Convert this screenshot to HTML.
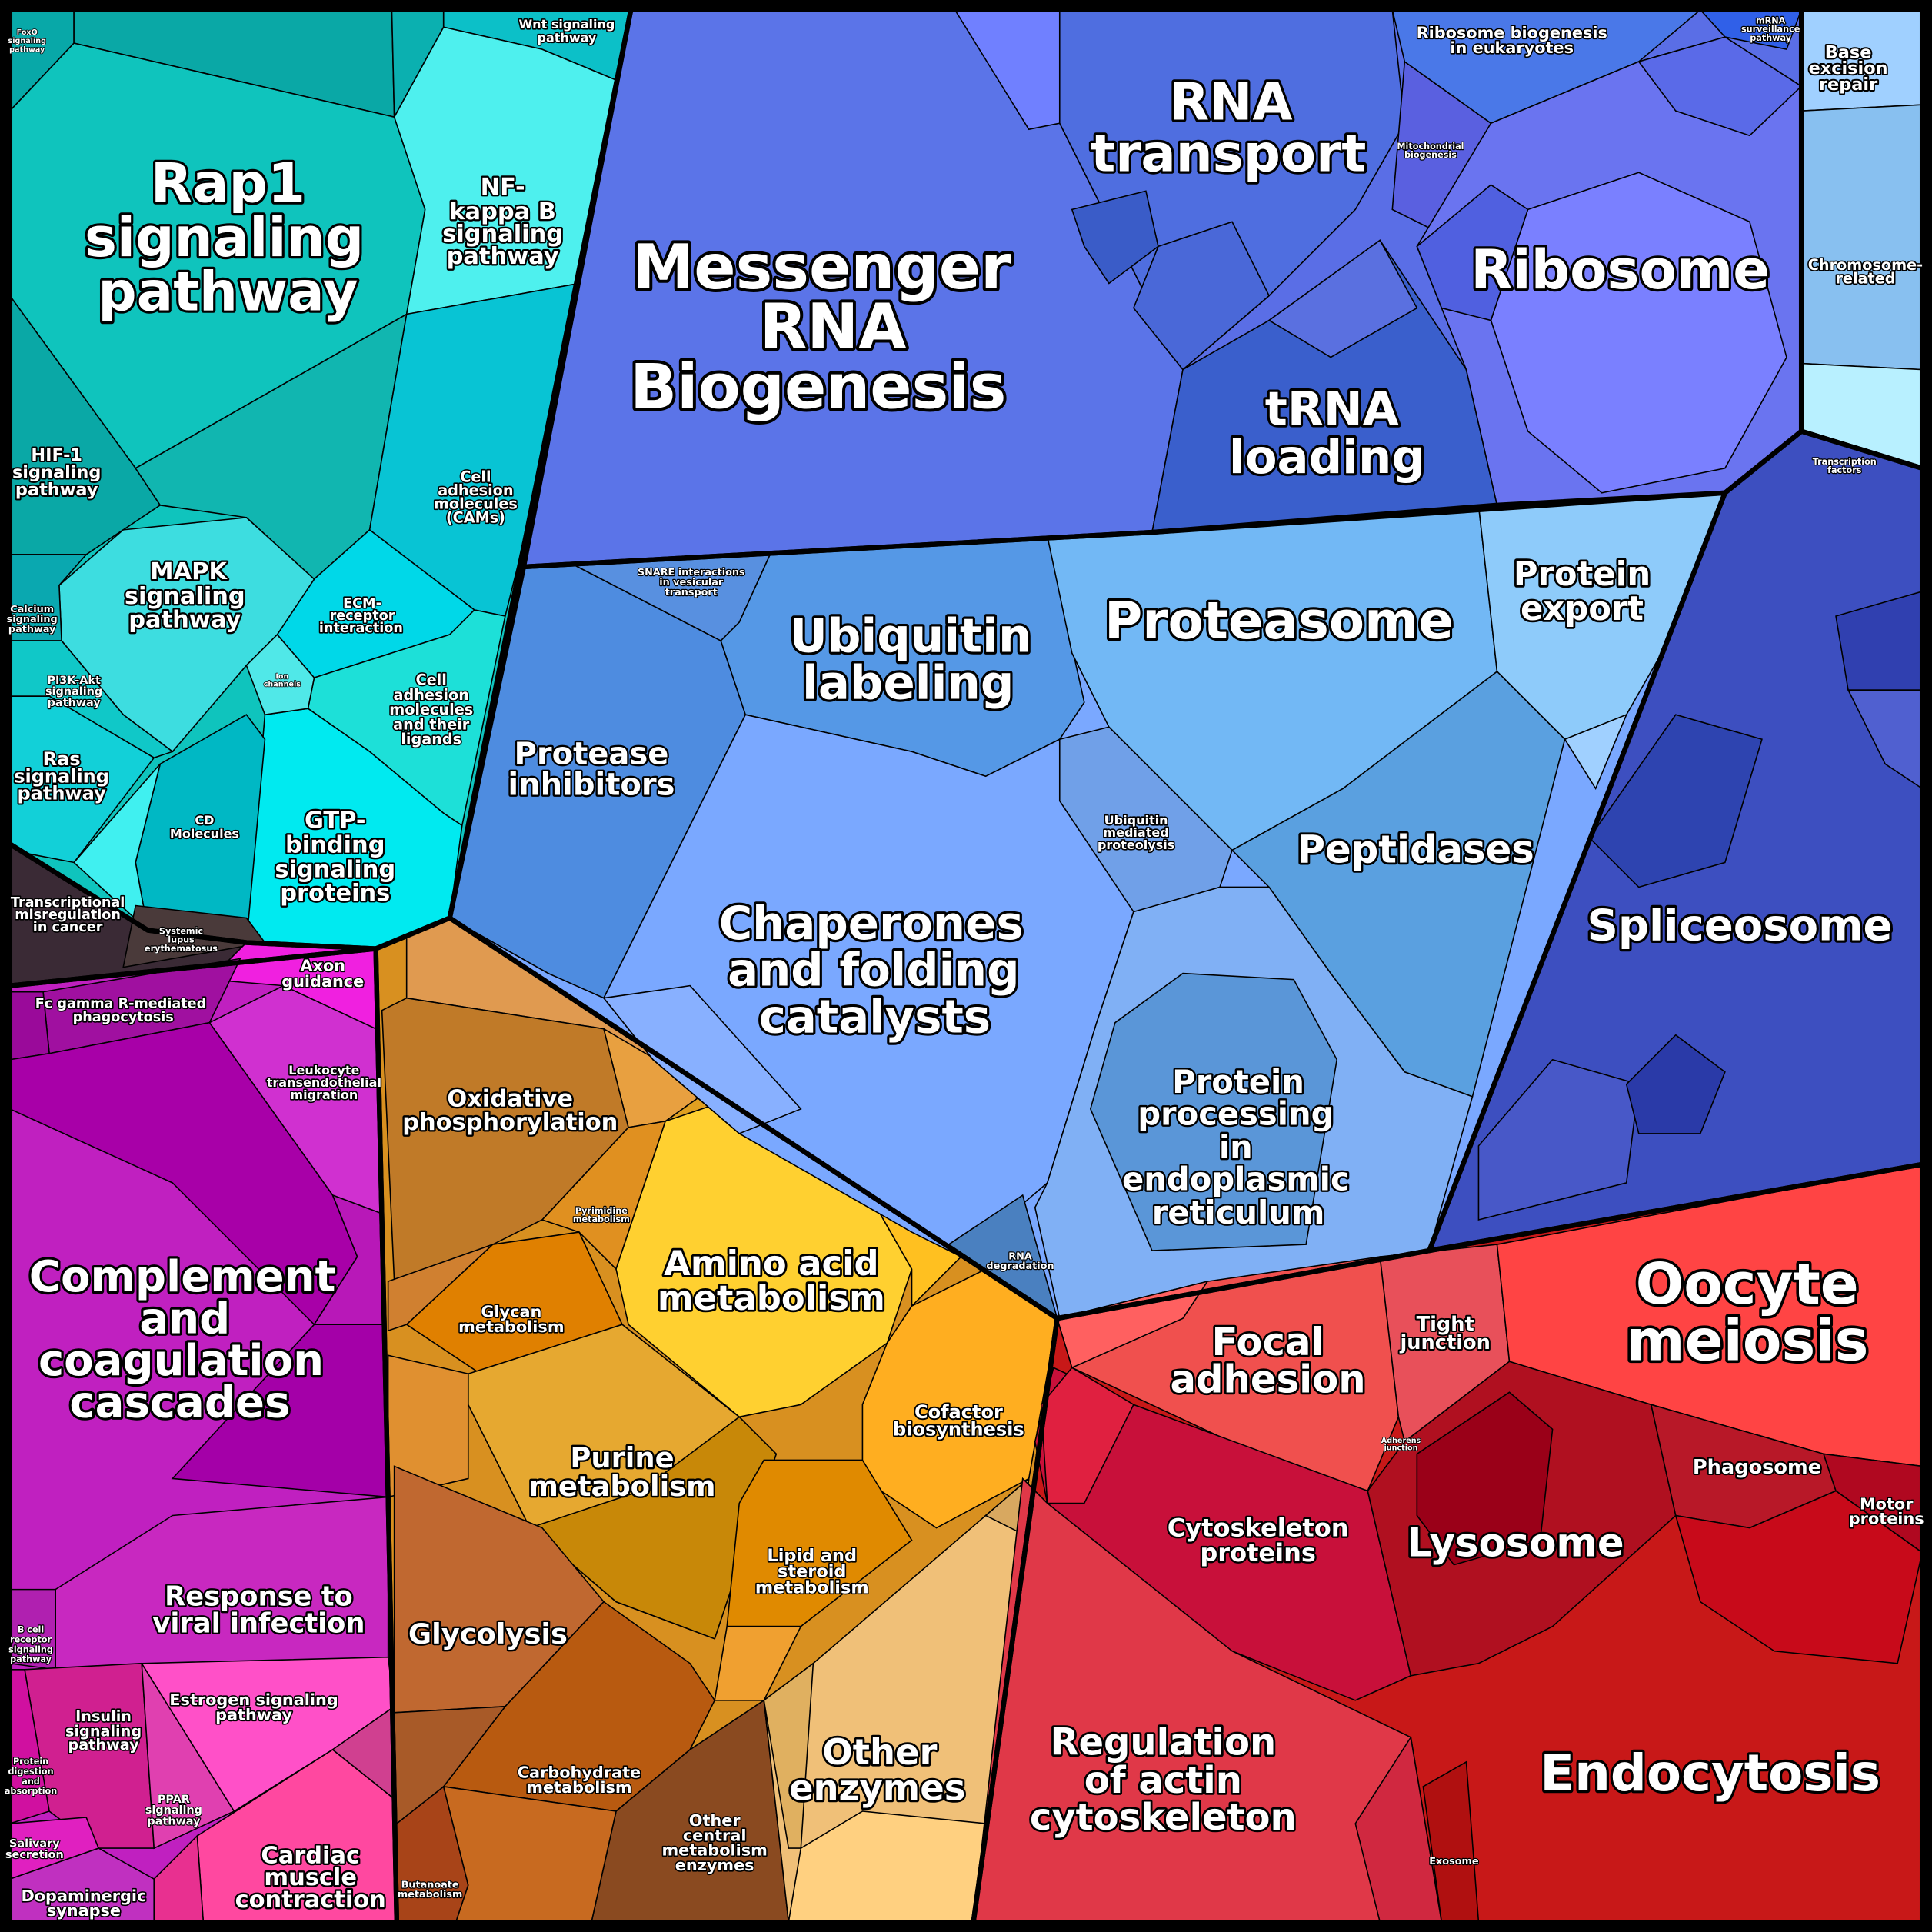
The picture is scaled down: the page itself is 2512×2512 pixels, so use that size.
<!DOCTYPE html>
<html><head><meta charset="utf-8"><style>
html,body{margin:0;padding:0;background:#000}
svg{display:block}
text{font-family:"DejaVu Sans","Liberation Sans",sans-serif;font-weight:bold;fill:#fff;stroke:#000;paint-order:stroke;text-anchor:middle;stroke-linejoin:round}
.s polygon{stroke:#000;stroke-width:1}
.m polygon{fill:none;stroke:#000;stroke-width:4;stroke-linejoin:round}
</style></head><body>
<svg width="2512" height="2512" viewBox="0 0 1568 1568" xmlns="http://www.w3.org/2000/svg">
<rect width="1568" height="1568" fill="#000"/>
<g class="s">
<!-- CYAN -->
<polygon fill="#0fc4bd" points="8,8 512,8 365,745 305,770 200,765 120,755 8,685"/>
<polygon fill="#08a8a8" points="8,8 60,8 60,35 8,90"/>
<polygon fill="#0aa8a6" points="60,8 318,8 320,95 60,35"/>
<polygon fill="#0bb0b0" points="318,8 360,8 360,22 320,95"/>
<polygon fill="#0cc0c8" points="360,8 512,8 500,65 440,40 360,22"/>
<polygon fill="#0fc4bd" points="8,90 60,35 320,95 345,170 330,255 110,380 8,240"/>
<polygon fill="#0aa8a6" points="8,240 110,380 130,410 70,450 8,450"/>
<polygon fill="#11b6b0" points="110,380 330,255 300,430 255,470 200,420 130,410"/>
<polygon fill="#4ef0ee" points="360,22 440,40 500,65 470,230 330,255 345,170 320,95"/>
<polygon fill="#08c4d4" points="470,230 420,460 410,500 385,495 300,430 330,255"/>
<polygon fill="#00d8e8" points="300,430 385,495 365,515 255,550 225,515 255,470"/>
<polygon fill="#1de0d8" points="365,515 385,495 410,500 375,670 360,660 300,610 250,575 255,550"/>
<polygon fill="#00eaf0" points="215,580 250,575 300,610 360,660 375,670 365,745 305,770 200,765 210,640"/>
<polygon fill="#3ddde0" points="48,475 100,430 200,420 255,470 225,515 200,540 140,610 100,580 50,520"/>
<polygon fill="#0aa8b0" points="8,450 70,450 48,475 50,520 8,520"/>
<polygon fill="#10c8c8" points="8,520 50,520 100,580 140,610 125,615 40,565 8,565"/>
<polygon fill="#12d0d8" points="8,565 40,565 125,615 60,700 8,690"/>
<polygon fill="#00b8c4" points="130,620 200,580 215,600 200,765 120,755 110,700"/>
<polygon fill="#40f0f0" points="60,700 130,620 110,700 120,755"/>
<polygon fill="#50e8e8" points="200,540 225,515 255,550 250,575 215,580"/>
<!-- DARK -->
<polygon fill="#3a2a35" points="8,685 120,755 200,765 305,770 8,800"/>
<polygon fill="#4a3a3a" points="110,735 200,745 215,765 100,785"/>
<!-- MAGENTA -->
<polygon fill="#c020c0" points="8,800 305,770 315,1215 322,1560 8,1560"/>
<polygon fill="#f020e0" points="170,795 200,765 305,770 305,835 230,800"/>
<polygon fill="#a010a0" points="35,805 195,778 170,830 40,855"/>
<polygon fill="#9a0a9a" points="8,805 35,805 40,855 8,860"/>
<polygon fill="#d030d0" points="170,830 230,800 305,835 310,985 270,970"/>
<polygon fill="#a800a8" points="8,860 40,855 170,830 270,970 290,1020 255,1075 140,960 8,900"/>
<polygon fill="#b818b8" points="270,970 310,985 315,1075 255,1075 290,1020"/>
<polygon fill="#a400a8" points="140,1200 255,1075 315,1075 315,1215"/>
<polygon fill="#c828c0" points="45,1290 140,1230 315,1215 315,1345 45,1355"/>
<polygon fill="#b020b0" points="8,1290 45,1290 45,1355 8,1350"/>
<polygon fill="#d02090" points="20,1355 115,1350 125,1500 80,1500 40,1470"/>
<polygon fill="#e040b0" points="115,1350 190,1470 125,1500"/>
<polygon fill="#ff50c8" points="115,1350 315,1345 320,1385 270,1420 190,1470"/>
<polygon fill="#ff48a0" points="160,1490 270,1420 320,1460 322,1560 165,1560"/>
<polygon fill="#d04090" points="270,1420 320,1385 320,1460"/>
<polygon fill="#c030c0" points="8,1525 80,1500 125,1525 125,1560 8,1560"/>
<polygon fill="#d010a0" points="8,1355 20,1355 40,1470 8,1480"/>
<polygon fill="#e020c0" points="8,1480 70,1475 80,1500 8,1525"/>
<polygon fill="#e83090" points="125,1525 160,1490 165,1560 125,1560"/>
<!-- ORANGE -->
<polygon fill="#d89020" points="305,770 365,745 858,1070 790,1560 322,1560 315,1215"/>
<polygon fill="#e09a50" points="330,760 365,745 575,885 560,905 510,915 490,835 330,810"/>
<polygon fill="#c07a28" points="310,820 330,810 490,835 510,915 440,990 400,1010 320,1040"/>
<polygon fill="#e8a040" points="490,835 575,885 540,910 510,915"/>
<polygon fill="#e0a020" points="540,910 575,885 605,888 560,905"/>
<polygon fill="#e09020" points="440,990 510,915 540,910 500,1030 470,1000"/>
<polygon fill="#d08030" points="315,1040 400,1010 330,1075 315,1080"/>
<polygon fill="#e08000" points="330,1075 400,1010 470,1000 505,1075 390,1115"/>
<polygon fill="#ffd030" points="500,1030 540,910 605,888 700,960 740,1030 720,1090 650,1140 600,1150 510,1075"/>
<polygon fill="#ffc020" points="700,960 780,1020 740,1060 740,1030"/>
<polygon fill="#e6a830" points="380,1115 505,1075 600,1150 630,1180 580,1330 500,1300 430,1240 380,1140"/>
<polygon fill="#c88808" points="430,1240 520,1210 600,1150 630,1180 580,1330 500,1300"/>
<polygon fill="#ffae20" points="740,1060 800,1030 858,1070 835,1200 760,1240 700,1200 700,1140 720,1090"/>
<polygon fill="#e08a00" points="620,1185 700,1185 740,1250 650,1320 590,1320 600,1220"/>
<polygon fill="#f0a030" points="590,1320 650,1320 620,1380 580,1380"/>
<polygon fill="#e09030" points="315,1100 380,1115 380,1200 315,1215"/>
<polygon fill="#c06830" points="320,1190 440,1240 490,1300 410,1385 320,1390"/>
<polygon fill="#b85a10" points="360,1450 410,1385 490,1300 560,1350 580,1380 560,1420 500,1470"/>
<polygon fill="#8a4a20" points="480,1560 500,1470 560,1420 620,1380 640,1560"/>
<polygon fill="#a84418" points="322,1480 360,1450 380,1530 370,1560 322,1560"/>
<polygon fill="#a85a28" points="320,1390 410,1385 360,1450 322,1480"/>
<polygon fill="#c86a20" points="360,1450 500,1470 480,1560 370,1560 380,1530"/>
<polygon fill="#f0c078" points="620,1380 660,1350 800,1230 835,1200 790,1560 640,1560"/>
<polygon fill="#ffd080" points="650,1500 700,1470 800,1480 790,1560 640,1560"/>
<polygon fill="#e0b060" points="620,1380 660,1350 650,1500 640,1500"/>
<polygon fill="#d8a860" points="800,1230 835,1200 830,1245"/>
<!-- BLUE PROTEIN -->
<polygon fill="#7aa8ff" points="365,745 425,460 935,432 1215,410 1400,400 1160,1015 858,1070"/>
<polygon fill="#4e8ce0" points="425,460 465,458 585,520 605,580 490,810 445,790 365,745"/>
<polygon fill="#5890e0" points="465,458 625,450 600,505 585,520"/>
<polygon fill="#5598e6" points="625,450 850,435 880,570 860,600 800,630 740,610 605,580 585,520 600,505"/>
<polygon fill="#7aa8ff" points="490,810 605,580 740,610 800,630 860,600 920,740 890,830 850,960 780,1020 740,1000 600,920 530,860"/>
<polygon fill="#88b0ff" points="490,810 530,860 600,920 650,900 560,800"/>
<polygon fill="#72b8f5" points="850,435 935,430 1200,410 1215,545 1090,640 1000,690 900,590 870,530"/>
<polygon fill="#8ecbfa" points="1200,410 1400,400 1360,510 1320,580 1270,600 1215,545"/>
<polygon fill="#5aa0e0" points="1000,690 1090,640 1215,545 1270,600 1195,890 1140,870 1080,790 1030,720"/>
<polygon fill="#a0d0ff" points="1270,600 1320,580 1295,640"/>
<polygon fill="#70a0e8" points="860,600 900,590 1000,690 990,720 930,740 920,740 860,650"/>
<polygon fill="#80b0f5" points="850,960 890,830 920,740 990,720 1030,720 1080,790 1140,870 1195,890 1160,1015 860,1070 840,980"/>
<polygon fill="#5a96d8" points="905,830 960,790 1050,795 1085,860 1060,1010 935,1015 885,900"/>
<polygon fill="#4a80c0" points="770,1010 830,970 858,1070 800,1030"/>
<!-- mRNA -->
<polygon fill="#5a6ee6" points="512,8 1462,8 1462,350 1400,400 935,432 425,460"/>
<polygon fill="#5b74e8" points="512,8 775,8 860,100 960,300 935,432 425,460"/>
<polygon fill="#4f6ee0" points="775,8 1130,8 1140,100 1100,170 1030,240 960,300 860,100"/>
<polygon fill="#7080ff" points="775,8 860,8 860,100 835,105"/>
<polygon fill="#3a5cc8" points="870,170 930,155 940,200 900,230 880,200"/>
<polygon fill="#4a68d8" points="940,200 1000,180 1030,240 960,300 920,250"/>
<polygon fill="#3a5fcc" points="960,300 1030,260 1120,195 1190,300 1215,410 935,432"/>
<polygon fill="#5a70e0" points="1030,260 1120,195 1150,250 1080,290"/>
<polygon fill="#5a60e0" points="1140,50 1210,100 1170,190 1130,170"/>
<polygon fill="#4a78e8" points="1130,8 1380,8 1330,50 1210,100 1140,50"/>
<polygon fill="#3060e8" points="1380,8 1462,8 1450,40 1400,30"/>
<polygon fill="#6a74f0" points="1210,100 1330,50 1400,30 1462,70 1462,350 1400,400 1215,410 1190,300 1150,200"/>
<polygon fill="#7a80ff" points="1240,170 1330,140 1420,180 1450,290 1400,380 1300,400 1240,350 1210,260"/>
<polygon fill="#5060e0" points="1150,200 1210,150 1240,170 1210,260 1170,250"/>
<polygon fill="#5a6ae8" points="1330,50 1400,30 1462,70 1420,110 1360,90"/>
<!-- light blue TR -->
<polygon fill="#a0d0ff" points="1462,8 1560,8 1560,85 1462,90"/>
<polygon fill="#88c0f0" points="1462,90 1560,85 1560,300 1462,295"/>
<polygon fill="#b8f0ff" points="1462,295 1560,300 1560,380 1462,350"/>
<!-- SPLICEOSOME -->
<polygon fill="#3d4fc0" points="1400,400 1462,350 1560,380 1560,945 1160,1015"/>
<polygon fill="#2e44b0" points="1290,680 1360,580 1430,600 1400,700 1330,720"/>
<polygon fill="#4858c8" points="1200,930 1260,860 1330,880 1320,960 1200,990"/>
<polygon fill="#3040b0" points="1490,500 1560,480 1560,560 1500,560"/>
<polygon fill="#5060d0" points="1500,560 1560,560 1560,640 1530,620"/>
<polygon fill="#2a3aa8" points="1320,880 1360,840 1400,870 1380,920 1330,920"/>
<!-- RED -->
<polygon fill="#c81818" points="858,1070 1160,1015 1560,945 1560,1560 790,1560"/>
<polygon fill="#f0504e" points="858,1070 980,1040 1120,1020 1135,1150 1110,1210 1020,1180 870,1110"/>
<polygon fill="#ff6060" points="858,1070 980,1040 960,1070 870,1110"/>
<polygon fill="#e8505a" points="1120,1020 1215,1010 1225,1105 1140,1170 1135,1150"/>
<polygon fill="#ff4444" points="1215,1010 1560,945 1560,1190 1480,1180 1340,1140 1225,1105"/>
<polygon fill="#c8103a" points="855,1110 920,1140 1110,1210 1145,1360 1100,1380 1000,1340 900,1290 850,1220 840,1170"/>
<polygon fill="#e02040" points="845,1140 870,1110 920,1140 880,1220 850,1220"/>
<polygon fill="#e03848" points="830,1200 850,1220 1000,1340 1145,1410 1170,1560 790,1560"/>
<polygon fill="#d02840" points="1100,1480 1145,1410 1170,1560 1120,1560"/>
<polygon fill="#b01020" points="1110,1210 1140,1170 1225,1105 1340,1140 1360,1230 1260,1320 1200,1350 1145,1360"/>
<polygon fill="#9a0018" points="1150,1180 1225,1130 1260,1160 1250,1250 1180,1270 1150,1230"/>
<polygon fill="#b81828" points="1340,1140 1480,1180 1490,1210 1420,1240 1360,1230"/>
<polygon fill="#b00820" points="1480,1180 1560,1190 1560,1260 1490,1210"/>
<polygon fill="#c80a1a" points="1360,1230 1420,1240 1490,1210 1560,1260 1540,1350 1440,1340 1380,1300"/>
<polygon fill="#b01010" points="1155,1450 1190,1430 1200,1560 1170,1560"/>
</g>
<g class="m">
<polygon points="8,8 512,8 365,745 305,770 200,765 120,755 8,685"/>
<polygon points="8,685 120,755 200,765 305,770 8,800"/>
<polygon points="8,800 305,770 315,1215 322,1560 8,1560"/>
<polygon points="305,770 365,745 858,1070 790,1560 322,1560 315,1215"/>
<polygon points="365,745 425,460 935,432 1215,410 1400,400 1160,1015 858,1070"/>
<polygon points="512,8 1462,8 1462,350 1400,400 935,432 425,460"/>
<polygon points="1462,8 1560,8 1560,380 1462,350"/>
<polygon points="1400,400 1462,350 1560,380 1560,945 1160,1015"/>
<polygon points="858,1070 1160,1015 1560,945 1560,1560 790,1560"/>
<rect x="5" y="5" width="1558" height="1558" fill="none" stroke="#000" stroke-width="8"/>
</g>
<g>
<text x="185" y="164" font-size="44" stroke-width="4">Rap1</text>
<text x="182" y="208" font-size="44" stroke-width="4">signaling</text>
<text x="185" y="252" font-size="44" stroke-width="4">pathway</text>
<text x="408" y="158" font-size="19" stroke-width="3">NF-</text>
<text x="408" y="178" font-size="19" stroke-width="3">kappa B</text>
<text x="408" y="196" font-size="19" stroke-width="3">signaling</text>
<text x="408" y="214" font-size="19" stroke-width="3">pathway</text>
<text x="460" y="23" font-size="10" stroke-width="2">Wnt signaling</text>
<text x="460" y="34" font-size="10" stroke-width="2">pathway</text>
<text x="22" y="28" font-size="6" stroke-width="1">FoxO</text>
<text x="22" y="35" font-size="6" stroke-width="1">signaling</text>
<text x="22" y="42" font-size="6" stroke-width="1">pathway</text>
<text x="46" y="374" font-size="14" stroke-width="2.5">HIF-1</text>
<text x="46" y="388" font-size="14" stroke-width="2.5">signaling</text>
<text x="46" y="402" font-size="14" stroke-width="2.5">pathway</text>
<text x="153" y="470" font-size="19" stroke-width="3">MAPK</text>
<text x="150" y="490" font-size="19" stroke-width="3">signaling</text>
<text x="150" y="509" font-size="19" stroke-width="3">pathway</text>
<text x="386" y="391" font-size="12" stroke-width="2">Cell</text>
<text x="386" y="402" font-size="12" stroke-width="2">adhesion</text>
<text x="386" y="413" font-size="12" stroke-width="2">molecules</text>
<text x="386" y="424" font-size="12" stroke-width="2">(CAMs)</text>
<text x="294" y="493" font-size="11" stroke-width="2">ECM-</text>
<text x="294" y="503" font-size="11" stroke-width="2">receptor</text>
<text x="293" y="513" font-size="11" stroke-width="2">interaction</text>
<text x="350" y="556" font-size="12" stroke-width="2">Cell</text>
<text x="350" y="568" font-size="12" stroke-width="2">adhesion</text>
<text x="350" y="580" font-size="12" stroke-width="2">molecules</text>
<text x="350" y="592" font-size="12" stroke-width="2">and their</text>
<text x="350" y="604" font-size="12" stroke-width="2">ligands</text>
<text x="26" y="497" font-size="8" stroke-width="1.5">Calcium</text>
<text x="26" y="505" font-size="8" stroke-width="1.5">signaling</text>
<text x="26" y="513" font-size="8" stroke-width="1.5">pathway</text>
<text x="60" y="555" font-size="9" stroke-width="1.5">PI3K-Akt</text>
<text x="60" y="564" font-size="9" stroke-width="1.5">signaling</text>
<text x="60" y="573" font-size="9" stroke-width="1.5">pathway</text>
<text x="50" y="621" font-size="15" stroke-width="2.5">Ras</text>
<text x="50" y="635" font-size="15" stroke-width="2.5">signaling</text>
<text x="50" y="649" font-size="15" stroke-width="2.5">pathway</text>
<text x="166" y="669" font-size="10" stroke-width="2">CD</text>
<text x="166" y="680" font-size="10" stroke-width="2">Molecules</text>
<text x="272" y="672" font-size="19" stroke-width="3">GTP-</text>
<text x="272" y="692" font-size="19" stroke-width="3">binding</text>
<text x="272" y="712" font-size="19" stroke-width="3">signaling</text>
<text x="272" y="731" font-size="19" stroke-width="3">proteins</text>
<text x="229" y="551" font-size="6" stroke-width="1">Ion</text>
<text x="229" y="557" font-size="6" stroke-width="1">channels</text>
<text x="55" y="736" font-size="11" stroke-width="2">Transcriptional</text>
<text x="55" y="746" font-size="11" stroke-width="2">misregulation</text>
<text x="55" y="756" font-size="11" stroke-width="2">in cancer</text>
<text x="147" y="758" font-size="7" stroke-width="1.5">Systemic</text>
<text x="147" y="765" font-size="7" stroke-width="1.5">lupus</text>
<text x="147" y="772" font-size="7" stroke-width="1.5">erythematosus</text>

<text x="262" y="788" font-size="13" stroke-width="2">Axon</text>
<text x="262" y="801" font-size="13" stroke-width="2">guidance</text>
<text x="98" y="818" font-size="11" stroke-width="2">Fc gamma R-mediated</text>
<text x="100" y="829" font-size="11" stroke-width="2">phagocytosis</text>
<text x="263" y="872" font-size="10" stroke-width="2">Leukocyte</text>
<text x="263" y="882" font-size="10" stroke-width="2">transendothelial</text>
<text x="263" y="892" font-size="10" stroke-width="2">migration</text>
<text x="148" y="1048" font-size="35" stroke-width="4">Complement</text>
<text x="150" y="1082" font-size="35" stroke-width="4">and</text>
<text x="147" y="1116" font-size="35" stroke-width="4">coagulation</text>
<text x="146" y="1150" font-size="35" stroke-width="4">cascades</text>
<text x="210" y="1303" font-size="22" stroke-width="3">Response to</text>
<text x="210" y="1325" font-size="22" stroke-width="3">viral infection</text>
<text x="25" y="1325" font-size="7" stroke-width="1.5">B cell</text>
<text x="25" y="1333" font-size="7" stroke-width="1.5">receptor</text>
<text x="25" y="1341" font-size="7" stroke-width="1.5">signaling</text>
<text x="25" y="1349" font-size="7" stroke-width="1.5">pathway</text>
<text x="84" y="1397" font-size="12" stroke-width="2">Insulin</text>
<text x="84" y="1409" font-size="12" stroke-width="2">signaling</text>
<text x="84" y="1420" font-size="12" stroke-width="2">pathway</text>
<text x="206" y="1384" font-size="13" stroke-width="2">Estrogen signaling</text>
<text x="206" y="1396" font-size="13" stroke-width="2">pathway</text>
<text x="141" y="1463" font-size="9" stroke-width="1.5">PPAR</text>
<text x="141" y="1472" font-size="9" stroke-width="1.5">signaling</text>
<text x="141" y="1481" font-size="9" stroke-width="1.5">pathway</text>
<text x="252" y="1512" font-size="19" stroke-width="3">Cardiac</text>
<text x="252" y="1530" font-size="19" stroke-width="3">muscle</text>
<text x="252" y="1548" font-size="19" stroke-width="3">contraction</text>
<text x="25" y="1432" font-size="7" stroke-width="1.5">Protein</text>
<text x="25" y="1440" font-size="7" stroke-width="1.5">digestion</text>
<text x="25" y="1448" font-size="7" stroke-width="1.5">and</text>
<text x="25" y="1456" font-size="7" stroke-width="1.5">absorption</text>
<text x="28" y="1499" font-size="9" stroke-width="1.5">Salivary</text>
<text x="28" y="1508" font-size="9" stroke-width="1.5">secretion</text>
<text x="68" y="1543" font-size="13" stroke-width="2">Dopaminergic</text>
<text x="68" y="1555" font-size="13" stroke-width="2">synapse</text>

<text x="414" y="898" font-size="19" stroke-width="3">Oxidative</text>
<text x="414" y="917" font-size="19" stroke-width="3">phosphorylation</text>
<text x="488" y="985" font-size="7" stroke-width="1.5">Pyrimidine</text>
<text x="488" y="992" font-size="7" stroke-width="1.5">metabolism</text>
<text x="415" y="1069" font-size="13" stroke-width="2">Glycan</text>
<text x="415" y="1081" font-size="13" stroke-width="2">metabolism</text>
<text x="626" y="1035" font-size="28" stroke-width="3.5">Amino acid</text>
<text x="626" y="1063" font-size="28" stroke-width="3.5">metabolism</text>
<text x="505" y="1191" font-size="23" stroke-width="3">Purine</text>
<text x="505" y="1214" font-size="23" stroke-width="3">metabolism</text>
<text x="778" y="1151" font-size="15" stroke-width="2.5">Cofactor</text>
<text x="778" y="1165" font-size="15" stroke-width="2.5">biosynthesis</text>
<text x="659" y="1267" font-size="14" stroke-width="2">Lipid and</text>
<text x="659" y="1280" font-size="14" stroke-width="2">steroid</text>
<text x="659" y="1293" font-size="14" stroke-width="2">metabolism</text>
<text x="396" y="1334" font-size="23" stroke-width="3">Glycolysis</text>
<text x="470" y="1443" font-size="13" stroke-width="2">Carbohydrate</text>
<text x="470" y="1455" font-size="13" stroke-width="2">metabolism</text>
<text x="580" y="1482" font-size="13" stroke-width="2">Other</text>
<text x="580" y="1494" font-size="13" stroke-width="2">central</text>
<text x="580" y="1506" font-size="13" stroke-width="2">metabolism</text>
<text x="580" y="1518" font-size="13" stroke-width="2">enzymes</text>
<text x="349" y="1532" font-size="8" stroke-width="1.5">Butanoate</text>
<text x="349" y="1540" font-size="8" stroke-width="1.5">metabolism</text>
<text x="714" y="1432" font-size="29" stroke-width="3.5">Other</text>
<text x="712" y="1461" font-size="29" stroke-width="3.5">enzymes</text>

<text x="667" y="234" font-size="50" stroke-width="5">Messenger</text>
<text x="676" y="282" font-size="50" stroke-width="5">RNA</text>
<text x="664" y="331" font-size="50" stroke-width="5">Biogenesis</text>
<text x="999" y="97" font-size="42" stroke-width="4">RNA</text>
<text x="997" y="139" font-size="42" stroke-width="4">transport</text>
<text x="1081" y="345" font-size="38" stroke-width="4">tRNA</text>
<text x="1077" y="384" font-size="38" stroke-width="4">loading</text>
<text x="1315" y="234" font-size="44" stroke-width="4">Ribosome</text>
<text x="1227" y="31" font-size="13" stroke-width="2">Ribosome biogenesis</text>
<text x="1227" y="43" font-size="13" stroke-width="2">in eukaryotes</text>
<text x="1161" y="121" font-size="7" stroke-width="1.5">Mitochondrial</text>
<text x="1161" y="128" font-size="7" stroke-width="1.5">biogenesis</text>
<text x="1437" y="19" font-size="7" stroke-width="1.5">mRNA</text>
<text x="1437" y="26" font-size="7" stroke-width="1.5">surveillance</text>
<text x="1437" y="33" font-size="7" stroke-width="1.5">pathway</text>
<text x="1500" y="47" font-size="14" stroke-width="2.5">Base</text>
<text x="1500" y="60" font-size="14" stroke-width="2.5">excision</text>
<text x="1500" y="73" font-size="14" stroke-width="2.5">repair</text>
<text x="1514" y="219" font-size="12" stroke-width="2">Chromosome-</text>
<text x="1514" y="230" font-size="12" stroke-width="2">related</text>
<text x="1497" y="377" font-size="7" stroke-width="1.5">Transcription</text>
<text x="1497" y="384" font-size="7" stroke-width="1.5">factors</text>

<text x="561" y="467" font-size="8" stroke-width="1.5">SNARE interactions</text>
<text x="561" y="475" font-size="8" stroke-width="1.5">in vesicular</text>
<text x="561" y="483" font-size="8" stroke-width="1.5">transport</text>
<text x="739" y="529" font-size="38" stroke-width="4">Ubiquitin</text>
<text x="737" y="567" font-size="38" stroke-width="4">labeling</text>
<text x="1038" y="518" font-size="42" stroke-width="4">Proteasome</text>
<text x="1284" y="475" font-size="27" stroke-width="3.5">Protein</text>
<text x="1284" y="503" font-size="27" stroke-width="3.5">export</text>
<text x="480" y="620" font-size="25" stroke-width="3">Protease</text>
<text x="480" y="645" font-size="25" stroke-width="3">inhibitors</text>
<text x="707" y="762" font-size="37" stroke-width="4">Chaperones</text>
<text x="709" y="800" font-size="37" stroke-width="4">and folding</text>
<text x="710" y="838" font-size="37" stroke-width="4">catalysts</text>
<text x="1149" y="700" font-size="31" stroke-width="3.5">Peptidases</text>
<text x="922" y="669" font-size="10" stroke-width="2">Ubiquitin</text>
<text x="922" y="679" font-size="10" stroke-width="2">mediated</text>
<text x="922" y="689" font-size="10" stroke-width="2">proteolysis</text>
<text x="1005" y="887" font-size="26" stroke-width="3">Protein</text>
<text x="1003" y="913" font-size="26" stroke-width="3">processing</text>
<text x="1003" y="940" font-size="26" stroke-width="3">in</text>
<text x="1003" y="966" font-size="26" stroke-width="3">endoplasmic</text>
<text x="1005" y="993" font-size="26" stroke-width="3">reticulum</text>
<text x="828" y="1022" font-size="8" stroke-width="1.5">RNA</text>
<text x="828" y="1030" font-size="8" stroke-width="1.5">degradation</text>
<text x="1412" y="763" font-size="35" stroke-width="4">Spliceosome</text>

<text x="1418" y="1058" font-size="46" stroke-width="4.5">Oocyte</text>
<text x="1418" y="1104" font-size="46" stroke-width="4.5">meiosis</text>
<text x="1029" y="1100" font-size="31" stroke-width="3.5">Focal</text>
<text x="1029" y="1130" font-size="31" stroke-width="3.5">adhesion</text>
<text x="1173" y="1080" font-size="16" stroke-width="2.5">Tight</text>
<text x="1173" y="1095" font-size="16" stroke-width="2.5">junction</text>
<text x="1137" y="1171" font-size="6" stroke-width="1">Adherens</text>
<text x="1137" y="1177" font-size="6" stroke-width="1">junction</text>
<text x="1021" y="1247" font-size="20" stroke-width="3">Cytoskeleton</text>
<text x="1021" y="1267" font-size="20" stroke-width="3">proteins</text>
<text x="1230" y="1263" font-size="32" stroke-width="3.5">Lysosome</text>
<text x="1426" y="1196" font-size="16" stroke-width="2.5">Phagosome</text>
<text x="1531" y="1225" font-size="13" stroke-width="2">Motor</text>
<text x="1531" y="1237" font-size="13" stroke-width="2">proteins</text>
<text x="1388" y="1453" font-size="41" stroke-width="4">Endocytosis</text>
<text x="944" y="1424" font-size="30" stroke-width="3.5">Regulation</text>
<text x="944" y="1455" font-size="30" stroke-width="3.5">of actin</text>
<text x="944" y="1485" font-size="30" stroke-width="3.5">cytoskeleton</text>
<text x="1180" y="1513" font-size="8" stroke-width="1.5">Exosome</text>
</g>
</svg>
</body></html>
